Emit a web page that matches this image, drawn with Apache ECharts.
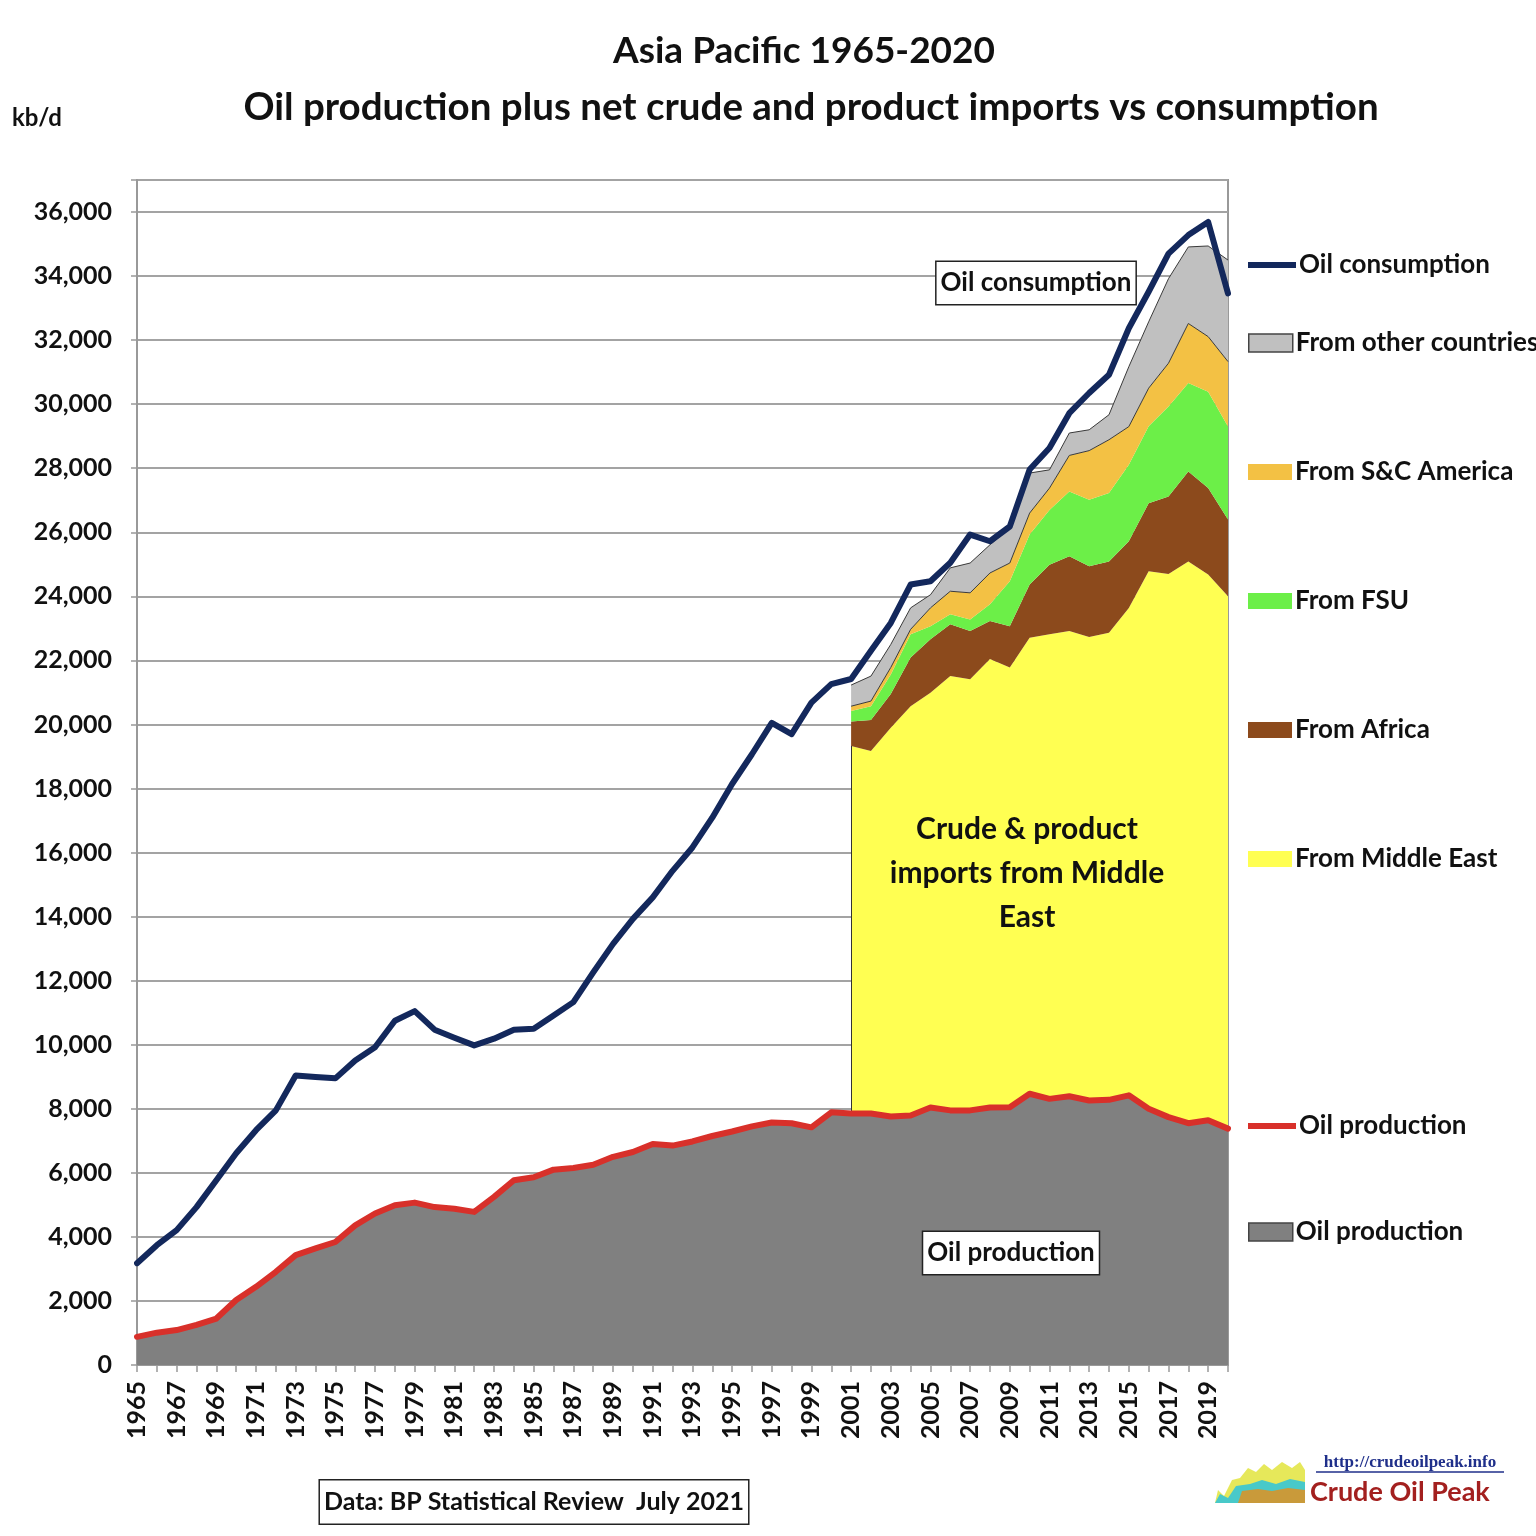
<!DOCTYPE html>
<html>
<head>
<meta charset="utf-8">
<script src="https://cdn.jsdelivr.net/npm/echarts@6/dist/echarts.min.js"></script>
<style>
html,body{margin:0;padding:0;background:#fff;}
#chart{width:1536px;height:1536px;}
</style>
</head>
<body>
<div id="chart"></div>
<script>
const years = ['1965','1966','1967','1968','1969','1970','1971','1972','1973','1974','1975','1976','1977','1978','1979','1980','1981','1982','1983','1984','1985','1986','1987','1988','1989','1990','1991','1992','1993','1994','1995','1996','1997','1998','1999','2000','2001','2002','2003','2004','2005','2006','2007','2008','2009','2010','2011','2012','2013','2014','2015','2016','2017','2018','2019','2020'];

const consumption = [3180,3740,4210,4930,5770,6610,7330,7950,9040,8990,8950,9510,9920,10750,11050,10470,10220,9980,10190,10470,10500,10910,11330,12260,13150,13930,14600,15430,16160,17090,18140,19070,20050,19700,20680,21260,21420,22300,23170,24370,24470,25050,25930,25720,26180,27960,28630,29720,30350,30920,32370,33510,34700,35280,35690,33460];

const production = [880,1010,1090,1250,1450,2030,2440,2910,3430,3640,3840,4360,4730,4990,5070,4930,4880,4780,5250,5770,5860,6100,6150,6250,6500,6650,6900,6850,6980,7150,7290,7450,7570,7550,7420,7890,7850,7850,7760,7790,8040,7950,7950,8040,8050,8470,8310,8390,8260,8280,8420,8000,7740,7550,7640,7380];

// net imports 2001-2020 (kb/d); '-' = no data before 2001
const fromMiddleEast = ['-','-','-','-','-','-','-','-','-','-','-','-','-','-','-','-','-','-','-','-','-','-','-','-','-','-','-','-','-','-','-','-','-','-','-','-',11480,11320,12140,12780,12950,13560,13460,14000,13730,14240,14510,14530,14470,14580,15220,16780,16960,17540,17040,16620];
const fromAfrica = ['-','-','-','-','-','-','-','-','-','-','-','-','-','-','-','-','-','-','-','-','-','-','-','-','-','-','-','-','-','-','-','-','-','-','-','-',760,970,1050,1520,1670,1620,1510,1190,1290,1660,2170,2330,2210,2230,2080,2130,2420,2810,2700,2400];
const fromFSU = ['-','-','-','-','-','-','-','-','-','-','-','-','-','-','-','-','-','-','-','-','-','-','-','-','-','-','-','-','-','-','-','-','-','-','-','-',330,430,610,730,410,310,360,520,1400,1560,1710,2020,2080,2140,2390,2400,2810,2760,3010,2900];
const fromSCAmerica = ['-','-','-','-','-','-','-','-','-','-','-','-','-','-','-','-','-','-','-','-','-','-','-','-','-','-','-','-','-','-','-','-','-','-','-','-',150,160,220,150,570,720,830,980,570,670,680,1130,1530,1660,1190,1190,1350,1860,1720,2030];
const fromOther = ['-','-','-','-','-','-','-','-','-','-','-','-','-','-','-','-','-','-','-','-','-','-','-','-','-','-','-','-','-','-','-','-','-','-','-','-',660,780,720,670,410,730,930,880,1090,1250,570,700,650,780,1870,2070,2640,2390,2830,3170];

const yTicks = [0,2000,4000,6000,8000,10000,12000,14000,16000,18000,20000,22000,24000,26000,28000,30000,32000,34000,36000];

const FONT = 'Lato';
const C = {
  cons:'#13285c', prodLine:'#d8302a', prodArea:'#808080',
  me:'#ffff52', af:'#8c4a1c', fsu:'#6cef48', sca:'#f3c144', oth:'#c0c0c0'
};

function fmt(v){ return v.toString().replace(/\B(?=(\d{3})+(?!\d))/g, ','); }

function legendItem(name, cy, iconStyle, w, h){
  return {
    data:[{name:name, icon:'rect', itemStyle:iconStyle}],
    left:1248, top:cy-15, itemWidth:w, itemHeight:h, itemGap:0,
    selectedMode:false, padding:0,
    textStyle:{fontFamily:FONT, fontWeight:'bold', fontSize:26, color:'#111', lineHeight:30, padding:[0,0,0,-2]}
  };
}

const chart = echarts.init(document.getElementById('chart'));
chart.setOption({
  backgroundColor:'#fff',
  animation:false,
  title:[
    {text:'Asia Pacific 1965-2020', left:799, top:28, textAlign:'center',
     textStyle:{fontFamily:FONT, fontWeight:'bold', fontSize:37, color:'#111'}},
    {text:'Oil production plus net crude and product imports vs consumption', left:806, top:83, textAlign:'center',
     textStyle:{fontFamily:FONT, fontWeight:'bold', fontSize:38.5, color:'#111'}}
  ],
  legend:[
    legendItem('Oil consumption', 265, {color:C.cons}, 48, 6),
    legendItem('From other countries', 343, {color:C.oth, borderColor:'#444', borderWidth:1.5}, 44, 18),
    legendItem('From S&C America', 472, {color:C.sca}, 44, 16),
    legendItem('From FSU', 601, {color:C.fsu}, 44, 16),
    legendItem('From Africa', 730, {color:C.af}, 44, 16),
    legendItem('From Middle East', 859, {color:C.me}, 44, 16),
    legendItem('Oil production', 1126, {color:C.prodLine}, 48, 6),
    legendItem('Oil production ', 1232, {color:C.prodArea, borderColor:'#444', borderWidth:1.5}, 44, 18)
  ],
  grid:{left:137, right:308, top:180, bottom:171, show:true, borderColor:'#999', borderWidth:2, backgroundColor:'transparent'},
  xAxis:{
    type:'category', data:years, boundaryGap:false,
    axisLine:{lineStyle:{color:'#999', width:2}},
    axisTick:{show:true, interval:0, length:7, lineStyle:{color:'#999', width:1.5}},
    axisLabel:{interval:1, rotate:90, margin:16, fontFamily:FONT, fontWeight:'bold', fontSize:25, color:'#111'}
  },
  yAxis:{
    type:'value', min:0, max:37000, interval:2000,
    axisLine:{show:true, lineStyle:{color:'#999', width:2}},
    axisTick:{show:true, length:6, lineStyle:{color:'#999', width:1.5}},
    axisLabel:{margin:25, fontFamily:FONT, fontWeight:'bold', fontSize:25, color:'#111',
      formatter:function(v){ return yTicks.indexOf(v) >= 0 ? fmt(v) : ''; }},
    splitLine:{lineStyle:{color:'#a3a3a3', width:2}}
  },
  series:[
    {name:'Oil production ', type:'line', stack:'total', data:production, symbol:'none',
     lineStyle:{width:0}, areaStyle:{color:C.prodArea, opacity:1}, itemStyle:{color:C.prodArea}, z:2},
    {name:'From Middle East', type:'line', stack:'total', data:fromMiddleEast, symbol:'none',
     lineStyle:{width:0}, areaStyle:{color:C.me, opacity:1}, itemStyle:{color:C.me}, z:2,
     markLine:{silent:true, symbol:'none', label:{show:false}, lineStyle:{color:'#333', width:1, type:'solid'},
       data:[[{coord:['2001', production[36]]},{coord:['2001', production[36]+fromMiddleEast[36]]}]]}},
    {name:'From Africa', type:'line', stack:'total', data:fromAfrica, symbol:'none',
     lineStyle:{width:0}, areaStyle:{color:C.af, opacity:1}, itemStyle:{color:C.af}, z:2},
    {name:'From FSU', type:'line', stack:'total', data:fromFSU, symbol:'none',
     lineStyle:{width:0}, areaStyle:{color:C.fsu, opacity:1}, itemStyle:{color:C.fsu}, z:2},
    {name:'From S&C America', type:'line', stack:'total', data:fromSCAmerica, symbol:'none',
     lineStyle:{width:1, color:'#3a3a3a'}, areaStyle:{color:C.sca, opacity:1}, itemStyle:{color:C.sca}, z:2},
    {name:'From other countries', type:'line', stack:'total', data:fromOther, symbol:'none',
     lineStyle:{width:1, color:'#3a3a3a'}, areaStyle:{color:C.oth, opacity:1}, itemStyle:{color:C.oth}, z:2},
    {name:'Oil production', type:'line', data:production, symbol:'none',
     lineStyle:{width:6, color:C.prodLine, join:'round', cap:'round'}, itemStyle:{color:C.prodLine}, z:5},
    {name:'Oil consumption', type:'line', data:consumption, symbol:'none',
     lineStyle:{width:6, color:C.cons, join:'round', cap:'round'}, itemStyle:{color:C.cons}, z:6}
  ],
  graphic:[
    {type:'text', left:12, top:106, style:{text:'kb/d', font:'bold 24px Lato', fill:'#111'}},
    {type:'text', x:1036, y:283, z:20, style:{text:'Oil consumption', font:'bold 26px Lato', fill:'#111',
      align:'center', verticalAlign:'middle', backgroundColor:'#fff', borderColor:'#222', borderWidth:1.5, padding:[8,4,8,4]}},
    {type:'text', x:1011, y:1253, z:20, style:{text:'Oil production', font:'bold 26px Lato', fill:'#111',
      align:'center', verticalAlign:'middle', backgroundColor:'#fff', borderColor:'#222', borderWidth:1.5, padding:[8,4,8,4]}},
    {type:'text', x:1027, y:873, z:20, style:{text:'Crude & product\nimports from Middle\nEast', font:'bold 30px Lato',
      fill:'#111', align:'center', verticalAlign:'middle', lineHeight:44}},
    {type:'text', x:534, y:1502, z:20, style:{text:'Data: BP Statistical Review  July 2021', font:'bold 25px Lato', fill:'#111',
      align:'center', verticalAlign:'middle', backgroundColor:'#fff', borderColor:'#222', borderWidth:1.5, padding:[9,4,9,4]}},
    {type:'text', x:1410, y:1463, z:20, style:{text:'http://crudeoilpeak.info', font:'bold 17px "Liberation Serif"', fill:'#1f2f8a',
      align:'center', verticalAlign:'middle'}},
    {type:'line', z:20, shape:{x1:1316, y1:1472, x2:1504, y2:1472}, style:{stroke:'#1f2f8a', lineWidth:1.5}},
    {type:'text', x:1310, y:1492, z:20, style:{text:'Crude Oil Peak', font:'bold 27px Lato', fill:'#a3201f',
      align:'left', verticalAlign:'middle'}},
    {type:'polygon', z:20, shape:{points:[[1215,1503],[1218,1490],[1224,1496],[1232,1480],[1240,1478],[1248,1468],[1256,1472],[1264,1464],[1272,1470],[1282,1462],[1292,1468],[1300,1462],[1305,1470],[1305,1503]]}, style:{fill:'#e6e85a'}},
    {type:'polygon', z:21, shape:{points:[[1215,1503],[1220,1494],[1228,1498],[1236,1486],[1250,1484],[1262,1480],[1276,1484],[1290,1479],[1305,1482],[1305,1503]]}, style:{fill:'#48c9c9'}},
    {type:'polygon', z:22, shape:{points:[[1238,1503],[1242,1491],[1258,1489],[1272,1491],[1288,1488],[1305,1490],[1305,1503]]}, style:{fill:'#c99a3a'}}
  ]
});
</script>
</body>
</html>
